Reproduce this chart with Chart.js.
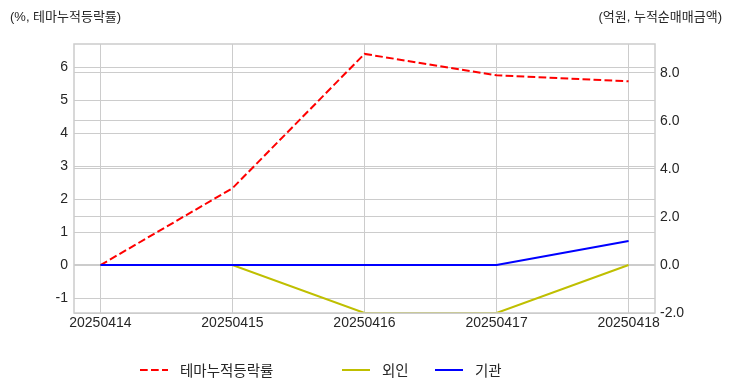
<!DOCTYPE html>
<html>
<head>
<meta charset="utf-8">
<script src="https://cdn.jsdelivr.net/npm/chart.js@4.4.1/dist/chart.umd.min.js"></script>
<style>
  html, body { margin: 0; padding: 0; background: #fff; }
  #wrap { position: relative; width: 732px; height: 392px; font-family: "Liberation Sans", "Noto Sans CJK KR", sans-serif; color: #262626; }
  #chart { position: absolute; left: 0; top: 0; }
  .unit { position: absolute; top: 6px; font-size: 13px; }
  .legend { position: absolute; top: 359px; font-size: 14.5px; display: flex; align-items: center; }
  .legend svg { margin-right: 12px; }
</style>
</head>
<body>
<div id="wrap">
  <canvas id="chart" width="732" height="392"></canvas>
  <div class="unit" style="left:10px">(%, 테마누적등락률)</div>
  <div class="unit" style="right:10px">(억원, 누적순매매금액)</div>
  <div class="legend" style="left:140px"><svg width="28" height="4"><line x1="0" y1="2" x2="28" y2="2" stroke="#ff0000" stroke-width="2" stroke-dasharray="7.7,3.3"/></svg>테마누적등락률</div>
  <div class="legend" style="left:342px"><svg width="28" height="4"><line x1="0" y1="2" x2="28" y2="2" stroke="#bfbf00" stroke-width="2"/></svg>외인</div>
  <div class="legend" style="left:435px"><svg width="28" height="4"><line x1="0" y1="2" x2="28" y2="2" stroke="#0000ff" stroke-width="2"/></svg>기관</div>
</div>
<script>
// ── 데이터 ────────────────────────────────────────────────
const dates       = ['20250414', '20250415', '20250416', '20250417', '20250418'];
const themeReturn = [0, 2.33, 6.40, 5.75, 5.57];   // 좌축 (%)
const foreign     = [0, 0, -2.0, -2.0, 0];          // 우축 (억원)
const institution = [0, 0, 0, 0, 1.0];              // 우축 (억원)
const leftTicks   = [-1, 0, 1, 2, 3, 4, 5, 6];
const rightTicks  = [-2, 0, 2, 4, 6, 8];

const pts = arr => arr.map((v, i) => ({ x: i, y: v }));
const GRID = '#cccccc';
const TXT  = '#262626';
const FONT = { family: '"Liberation Sans", "Noto Sans CJK KR", sans-serif', size: 14 };

// 플롯 영역 테두리
const frame = {
    id: 'frame',
    afterDraw(chart) {
        const a = chart.chartArea, c = chart.ctx;
        c.save();
        c.strokeStyle = GRID;
        c.lineWidth = 1.5;
        c.strokeRect(a.left, a.top, a.right - a.left, a.bottom - a.top);
        c.restore();
    },
};

new Chart(document.getElementById('chart'), {
    type: 'line',
    data: {
        datasets: [
            { label: '테마누적등락률', data: pts(themeReturn), yAxisID: 'yL', order: 3,
              borderColor: '#ff0000', borderWidth: 2, borderDash: [7.7, 3.3] },
            { label: '외인', data: pts(foreign), yAxisID: 'yR', order: 2,
              borderColor: '#bfbf00', borderWidth: 2 },
            { label: '기관', data: pts(institution), yAxisID: 'yR', order: 1,
              borderColor: '#0000ff', borderWidth: 2 },
        ],
    },
    options: {
        responsive: false,
        animation: false,
        layout: { padding: { top: 44, left: 0, right: 0, bottom: 0 } },
        elements: { point: { radius: 0 }, line: { tension: 0 } },
        plugins: { legend: { display: false }, tooltip: { enabled: false } },
        scales: {
            x: {
                type: 'linear', min: -0.2, max: 4.2,
                afterBuildTicks: s => { s.ticks = dates.map((d, i) => ({ value: i })); },
                afterFit: s => { s.height = 79; },
                ticks: { callback: v => dates[v], color: TXT, font: FONT, padding: 2, maxRotation: 0, autoSkip: false },
                grid: { color: GRID, lineWidth: 1, drawTicks: false },
                border: { display: false },
            },
            yL: {
                position: 'left', min: -1.45, max: 6.70,
                afterBuildTicks: s => { s.ticks = leftTicks.map(v => ({ value: v })); },
                afterFit: s => { s.width = 74; },
                ticks: { color: TXT, font: FONT, padding: 6 },
                grid: { color: GRID, lineWidth: 1, drawTicks: false },
                border: { display: false },
            },
            yR: {
                position: 'right', min: -2, max: 9.2,
                afterBuildTicks: s => { s.ticks = rightTicks.map(v => ({ value: v })); },
                afterFit: s => { s.width = 77; },
                ticks: { color: TXT, font: FONT, padding: 5, callback: v => v.toFixed(1) },
                grid: { color: GRID, lineWidth: 1, drawTicks: false },
                border: { display: false },
            },
        },
    },
    plugins: [frame],
});
</script>
</body>
</html>
